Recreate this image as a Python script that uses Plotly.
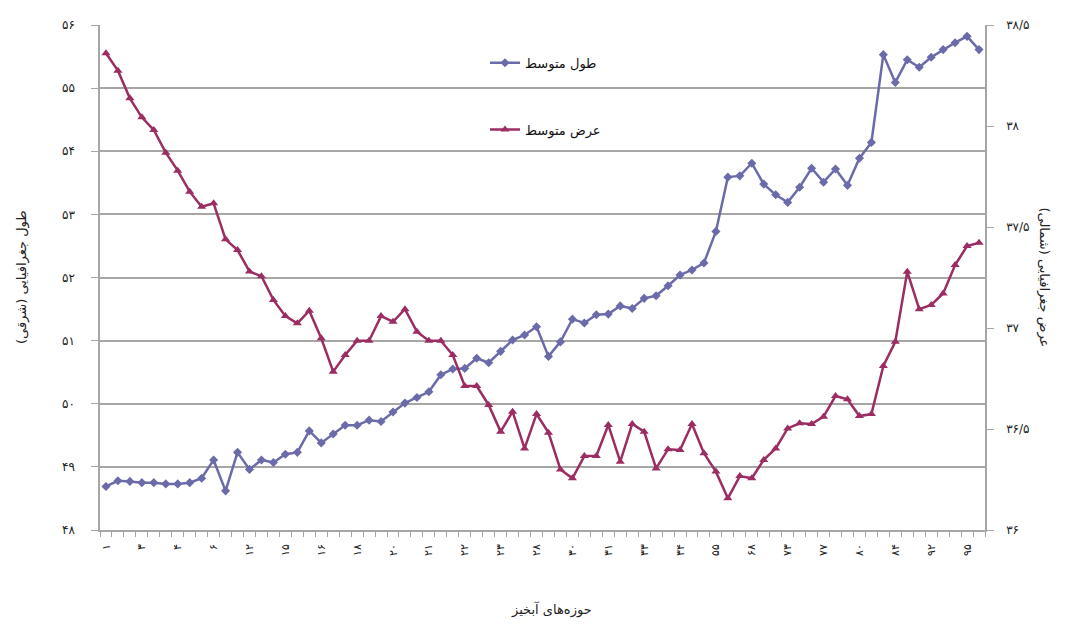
import plotly.graph_objects as go

# ---- data ----
basin_index = list(range(1, 75))

mean_longitude = [
    48.69, 48.78, 48.77, 48.75, 48.75, 48.73, 48.73, 48.75, 48.82, 49.11,
    48.62, 49.23, 48.96, 49.11, 49.07, 49.20, 49.23, 49.57, 49.38, 49.52,
    49.66, 49.66, 49.74, 49.72, 49.87, 50.01, 50.10, 50.19, 50.46, 50.55,
    50.56, 50.72, 50.65, 50.83, 51.01, 51.09, 51.22, 50.75, 50.98, 51.34,
    51.28, 51.41, 51.42, 51.55, 51.51, 51.67, 51.71, 51.87, 52.04, 52.12,
    52.23, 52.73, 53.59, 53.61, 53.81, 53.48, 53.31, 53.19, 53.43, 53.73,
    53.51, 53.72, 53.46, 53.89, 54.14, 55.53, 55.09, 55.45, 55.33, 55.49,
    55.61, 55.72, 55.82, 55.61,
]

mean_latitude = [
    38.360, 38.274, 38.137, 38.043, 37.980, 37.868, 37.779, 37.675, 37.600, 37.617,
    37.439, 37.386, 37.280, 37.256, 37.139, 37.059, 37.023, 37.086, 36.949, 36.784,
    36.866, 36.937, 36.937, 37.059, 37.031, 37.093, 36.982, 36.937, 36.937, 36.866,
    36.713, 36.713, 36.619, 36.487, 36.586, 36.404, 36.574, 36.482, 36.300, 36.256,
    36.366, 36.366, 36.520, 36.338, 36.525, 36.487, 36.305, 36.400, 36.396, 36.525,
    36.380, 36.289, 36.157, 36.267, 36.256, 36.347, 36.404, 36.503, 36.528, 36.525,
    36.561, 36.663, 36.647, 36.564, 36.574, 36.812, 36.932, 37.279, 37.093, 37.114,
    37.171, 37.312, 37.406, 37.422,
]

label_positions = [1, 4, 7, 10, 13, 16, 19, 22, 25, 28, 31, 34, 37, 40, 43, 46,
                   49, 52, 55, 58, 61, 64, 67, 70, 73]
label_texts = ["۱", "۳", "۴", "۶", "۱۲", "۱۵", "۱۶", "۱۸", "۲۰", "۲۱", "۲۲", "۲۳",
               "۲۸", "۳۰", "۳۱", "۳۳", "۳۴", "۵۵", "۶۸", "۷۳", "۷۷", "۸۰", "۸۴",
               "۹۲", "۹۵"]

left_ticks = [48, 49, 50, 51, 52, 53, 54, 55, 56]
right_ticks = [36, 36.5, 37, 37.5, 38, 38.5]

series_names = ["طول متوسط", "عرض متوسط"]
left_title = "طول جغرافیایی (شرقی)"
right_title = "عرض جغرافیایی (شمالی)"
x_title = "حوزه‌های آبخیز"

FA = str.maketrans("0123456789.", "۰۱۲۳۴۵۶۷۸۹/")


def fa(v):
    return ("%g" % v).translate(FA)


BLUE = "#6b6ba9"
RED = "#9b2d63"
GRID = "#a6a6a6"
FONT = "DejaVu Sans"

fig = go.Figure()
fig.add_trace(go.Scatter(
    x=basin_index, y=mean_longitude, name=series_names[0], mode="lines+markers",
    line=dict(color=BLUE, width=2.5),
    marker=dict(symbol="diamond", size=7, color=BLUE),
    legendgroup="a", yaxis="y"))
fig.add_trace(go.Scatter(
    x=basin_index, y=mean_latitude, name=series_names[1], mode="lines+markers",
    line=dict(color=RED, width=2.5),
    marker=dict(symbol="triangle-up", size=8, color=RED),
    legendgroup="b", yaxis="y2"))

n = len(basin_index)

fig.update_layout(
    width=1061, height=614,
    margin=dict(l=92, r=84, t=17, b=92, autoexpand=False),
    paper_bgcolor="white", plot_bgcolor="white",
    font=dict(family=FONT, size=12, color="#222"),
    showlegend=True,
    legend=dict(x=0.435, y=0.955, xanchor="left", yanchor="top",
                bgcolor="rgba(0,0,0,0)", tracegroupgap=47,
                font=dict(family=FONT, size=13, color="#111")),
    xaxis=dict(range=[0.5, n + 0.5], tickmode="array",
               tickvals=label_positions, ticktext=label_texts, tickangle=-90,
               ticks="", ticklabelstandoff=8,
               minor=dict(tick0=0.5, dtick=1, ticks="outside", ticklen=5,
                          tickcolor=GRID, showgrid=False),
               tickfont=dict(family=FONT, size=11, color="#222"),
               showgrid=False, zeroline=False, automargin=False,
               showline=True, linecolor=GRID, linewidth=1.5),
    yaxis=dict(range=[48, 56], tickmode="array", tickvals=left_ticks,
               ticktext=[fa(v) for v in left_ticks], ticks="outside", ticklen=7,
               tickcolor=GRID, showgrid=True, gridcolor=GRID, gridwidth=1.5,
               zeroline=False, showline=True, linecolor=GRID, linewidth=1.5,
               ticklabelstandoff=14, automargin=False,
               tickfont=dict(family=FONT, size=12, color="#222")),
    yaxis2=dict(range=[36, 38.5], overlaying="y", side="right", anchor="x",
                tickmode="array", tickvals=right_ticks,
                ticktext=[fa(v) for v in right_ticks], ticks="outside", ticklen=7,
                tickcolor=GRID, showgrid=False, zeroline=False, showline=True,
                linecolor=GRID, linewidth=1.5, ticklabelstandoff=10,
                automargin=False,
                tickfont=dict(family=FONT, size=12, color="#222")),
    annotations=[
        dict(text=left_title, xref="paper", yref="paper", x=-0.1, y=0.5,
             textangle=-90, showarrow=False, font=dict(family=FONT, size=13)),
        dict(text=right_title, xref="paper", yref="paper", x=1.078, y=0.5,
             textangle=90, showarrow=False, font=dict(family=FONT, size=13)),
        dict(text=x_title, xref="paper", yref="paper", x=0.51, y=-0.158,
             showarrow=False, yanchor="middle", font=dict(family=FONT, size=13)),
    ],
)

fig.write_html("out.html")
